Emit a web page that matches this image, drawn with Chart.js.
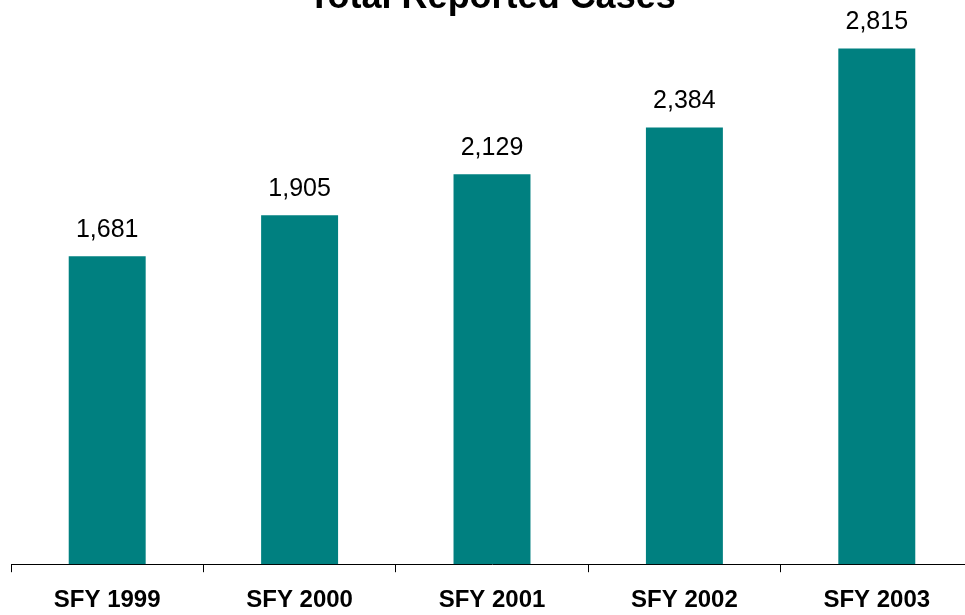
<!DOCTYPE html>
<html>
<head>
<meta charset="utf-8">
<script src="https://cdn.jsdelivr.net/npm/chart.js@4/dist/chart.umd.min.js"></script>
<style>
  html, body { margin: 0; padding: 0; background: #fff; overflow: hidden; width: 965px; height: 615px; }
  #wrap { position: absolute; left: 0; top: -34px; width: 985px; height: 690px; }
</style>
</head>
<body>
<div id="wrap"><canvas id="c"></canvas></div>
<script>
const titleText = 'Total Reported Cases';
const categories = ['SFY 1999', 'SFY 2000', 'SFY 2001', 'SFY 2002', 'SFY 2003'];
const cases = [1681, 1905, 2129, 2384, 2815];
const FONT = "'Liberation Sans', Arial, Helvetica, sans-serif";

const valueLabels = {
  id: 'valueLabels',
  afterDatasetsDraw(chart) {
    const ctx = chart.ctx;
    const meta = chart.getDatasetMeta(0);
    ctx.save();
    ctx.font = '25px ' + FONT;
    ctx.fillStyle = '#000';
    ctx.textAlign = 'center';
    ctx.textBaseline = 'alphabetic';
    meta.data.forEach((bar, i) => {
      ctx.fillText(cases[i].toLocaleString('en-US'), bar.x, bar.y - 19);
    });
    ctx.restore();
  }
};

new Chart(document.getElementById('c'), {
  type: 'bar',
  data: {
    labels: categories,
    datasets: [{
      data: cases,
      backgroundColor: '#008080',
      borderWidth: 0,
      categoryPercentage: 1.0,
      barPercentage: 0.4
    }]
  },
  options: {
    responsive: true,
    maintainAspectRatio: false,
    animation: false,
    layout: { padding: { left: 11, right: 12, top: 0, bottom: 27 } },
    plugins: {
      legend: { display: false },
      tooltip: { enabled: false },
      title: {
        display: true,
        text: titleText,
        color: '#000',
        font: { family: FONT, size: 36, weight: 'bold', lineHeight: 1.1 },
        padding: { top: 12, bottom: -3 }
      }
    },
    scales: {
      x: {
        offset: true,
        grid: { display: true, drawOnChartArea: false, drawTicks: true, tickLength: 8, color: '#000', offset: true },
        border: { display: true, color: '#000', width: 1 },
        ticks: { color: '#000', font: { family: FONT, size: 24, weight: 'bold' }, padding: 14, maxRotation: 0 }
      },
      y: {
        display: false,
        min: 0,
        max: 3000
      }
    }
  },
  plugins: [valueLabels]
});
</script>
</body>
</html>
